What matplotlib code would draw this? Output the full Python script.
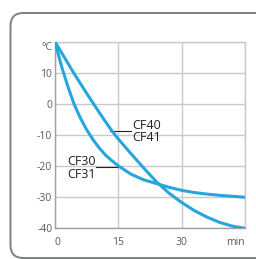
import matplotlib.pyplot as plt
from matplotlib.patches import FancyBboxPatch

minutes = [0, 1.5, 3, 4.5, 6, 7.5, 9, 10.5, 12, 13.5, 15, 18, 21, 24, 27, 30, 33, 36, 39, 42, 45]
cf30_temp = [20, 12.3, 5.8, 0, -4.5, -8.3, -11.5, -14.2, -16.5, -18.3, -19.9, -22.6, -24.4, -25.6,
             -26.8, -27.8, -28.5, -29.0, -29.4, -29.7, -30]
cf40_temp = [20, 16.6, 13.2, 9.8, 6.6, 3.4, 0.3, -2.8, -5.8, -8.7, -11.3, -16, -20.6, -25,
             -28.7, -31.7, -34.3, -36.4, -38.1, -39.3, -40]

x_ticks = [0, 15, 30, 45]
x_labels = ['0', '15', '30', 'min']
y_ticks = [-40, -30, -20, -10, 0, 10, 20]
y_labels = ['-40', '-30', '-20', '-10', '0', '10', '°C']

blue = '#27a6de'
grey = '#5a5a5a'

plt.rcParams['font.family'] = ['Open Sans', 'DejaVu Sans']

fig = plt.figure(figsize=(2.56, 2.59), dpi=100)

# rounded frame around the chart
box = FancyBboxPatch((10.5 / 256, 1 - 258 / 259), 260 / 256, 245 / 259,
                     boxstyle='round,pad=0,rounding_size=0.05',
                     transform=fig.transFigure, fill=False,
                     edgecolor='#7d807e', linewidth=1.4, clip_on=False)
fig.add_artist(box)

ax = fig.add_axes([0.2148, 0.1185, 0.7422, 0.7205])
ax.plot(minutes, cf30_temp, color=blue, lw=2.2, solid_capstyle='round',
        solid_joinstyle='round', zorder=3)
ax.plot(minutes, cf40_temp, color=blue, lw=2.2, solid_capstyle='round',
        solid_joinstyle='round', zorder=3)

ax.set_xlim(0, 45)
ax.set_ylim(-40, 20)
ax.set_xticks(x_ticks, x_labels)
ax.set_yticks(y_ticks, y_labels)
ax.grid(True, color='#c9c9c9', lw=1)
ax.set_axisbelow(True)
for s in ax.spines.values():
    s.set_color('#c9c9c9')
    s.set_linewidth(1)
ax.spines['left'].set_color('#a0a0a0')
ax.spines['bottom'].set_color('#a0a0a0')
ax.tick_params(length=0, labelsize=7.5, labelcolor=grey)
ax.tick_params(axis='x', pad=6)
ax.tick_params(axis='y', pad=2)
xl = ax.get_xticklabels()
xl[0].set_ha('left')
xl[-1].set_ha('right')
ax.get_yticklabels()[-1].set_va('top')

# leader lines and labels
ax.plot([13.0, 18.0], [-8.75, -8.75], color='#222222', lw=0.8, zorder=2)
ax.text(18.2, -8.1, 'CF40', fontsize=9, color='#222222', va='baseline', ha='left')
ax.text(18.2, -12.0, 'CF41', fontsize=9, color='#222222', va='baseline', ha='left')

ax.plot([9.8, 15.0], [-20.2, -20.2], color='#222222', lw=0.8, zorder=2)
ax.text(3.0, -19.75, 'CF30', fontsize=9, color='#222222', va='baseline', ha='left')
ax.text(3.0, -23.7, 'CF31', fontsize=9, color='#222222', va='baseline', ha='left')

fig.savefig('out.png', dpi=100)
